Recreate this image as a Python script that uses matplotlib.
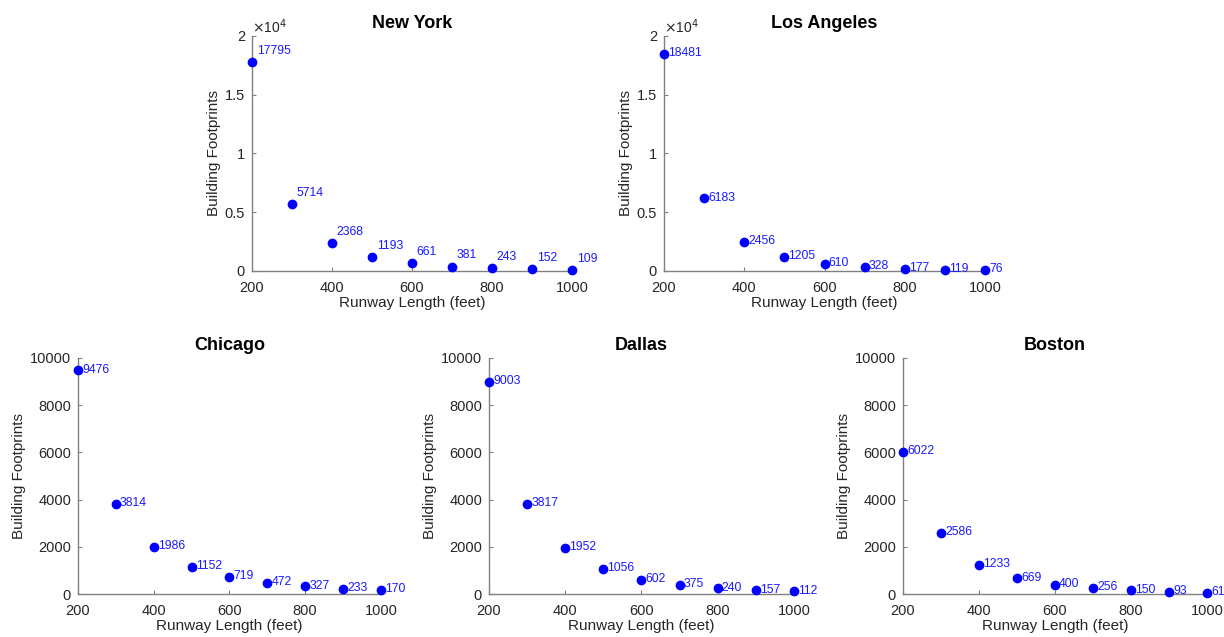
import numpy as np
import matplotlib
matplotlib.use("Agg")
import matplotlib.pyplot as plt
import matplotlib.ticker as mtk

plt.rcParams['font.family'] = ['Liberation Sans', 'DejaVu Sans']

runway = [200, 300, 400, 500, 600, 700, 800, 900, 1000]
new_york = [17795, 5714, 2368, 1193, 661, 381, 243, 152, 109]
los_angeles = [18481, 6183, 2456, 1205, 610, 328, 177, 119, 76]
chicago = [9476, 3814, 1986, 1152, 719, 472, 327, 233, 170]
dallas = [9003, 3817, 1952, 1056, 602, 375, 240, 157, 112]
boston = [6022, 2586, 1233, 669, 400, 256, 150, 93, 61]

x_ticks = [200, 400, 600, 800, 1000]

txt_col = '#262626'
ax_col = '#808080'


def decorate(ax, title, ys, ymax, yticks, sci, lbl_above):
    ax.plot(runway, ys, 'o', color='#0000ff', markersize=6, clip_on=False, zorder=3)
    for x, y in zip(runway, ys):
        if lbl_above:
            ax.annotate(str(y), (x, y), xytext=(3.5, 8), textcoords='offset points',
                        ha='left', va='center', color='#1a1aff', fontsize=8.8)
        else:
            ax.annotate(str(y), (x, y), xytext=(3, 0.5), textcoords='offset points',
                        ha='left', va='center', color='#1a1aff', fontsize=8.8)
    ax.set_xlim(200, 1000)
    ax.set_ylim(0, ymax)
    ax.set_xticks(x_ticks)
    ax.set_yticks(yticks)
    if sci:
        ax.yaxis.set_major_formatter(mtk.FuncFormatter(lambda v, p: '%g' % (v / 1e4)))
        ax.text(0.0, 1.0, r'$\times$10$^4$', transform=ax.transAxes, ha='left',
                va='bottom', color=txt_col, fontsize=10)
    for s in ['top', 'right']:
        ax.spines[s].set_visible(False)
    for s in ['left', 'bottom']:
        ax.spines[s].set_color(ax_col)
        ax.spines[s].set_linewidth(1)
    ax.tick_params(direction='in', length=3, color=ax_col, labelcolor=txt_col,
                   labelsize=10.5)
    ax.tick_params(axis='x', pad=7)
    ax.tick_params(axis='y', pad=5)
    ax.set_xlabel('Runway Length (feet)', color=txt_col, fontsize=11, labelpad=1)
    ax.set_ylabel('Building Footprints', color=txt_col, fontsize=11, labelpad=3)
    ax.set_title(title, fontsize=13, fontweight='bold', color='k', pad=6)


fig = plt.figure(figsize=(12.24, 6.37), dpi=100)

ax1 = fig.add_axes([0.2059, 0.5746, 0.2614, 0.3689])
decorate(ax1, 'New York', new_york, 20000, [0, 5000, 10000, 15000, 20000], True, True)

ax2 = fig.add_axes([0.5425, 0.5746, 0.2623, 0.3689])
decorate(ax2, 'Los Angeles', los_angeles, 20000, [0, 5000, 10000, 15000, 20000], True, False)

bt = [0, 2000, 4000, 6000, 8000, 10000]
ax3 = fig.add_axes([0.0637, 0.0675, 0.2475, 0.3705])
decorate(ax3, 'Chicago', chicago, 10000, bt, False, False)

ax4 = fig.add_axes([0.3995, 0.0675, 0.2492, 0.3705])
decorate(ax4, 'Dallas', dallas, 10000, bt, False, False)

ax5 = fig.add_axes([0.7377, 0.0675, 0.2484, 0.3705])
decorate(ax5, 'Boston', boston, 10000, bt, False, False)

plt.savefig('out.png', dpi=100)
